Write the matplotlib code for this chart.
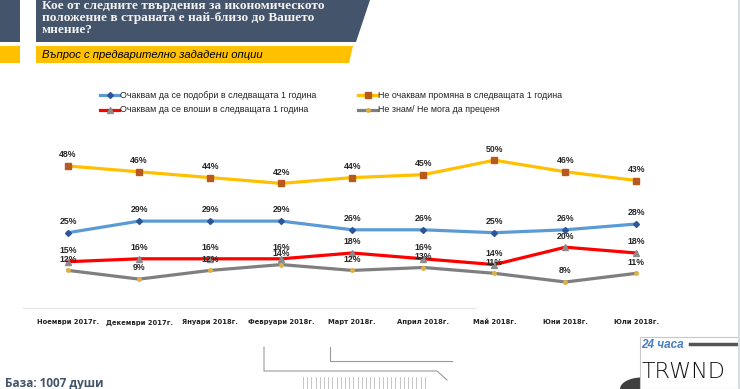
import matplotlib.pyplot as plt
from matplotlib.lines import Line2D
from matplotlib.patches import Polygon, Rectangle, Wedge
import numpy as np

# survey data (% of respondents)
months = ['Ноември 2017г.', 'Декември 2017г.', 'Януари 2018г.', 'Февруари 2018г.',
          'Март 2018г.', 'Април 2018г.', 'Май 2018г.', 'Юни 2018г.', 'Юли 2018г.']
better = [25, 29, 29, 29, 26, 26, 25, 26, 28]
same = [48, 46, 44, 42, 44, 45, 50, 46, 43]
worse = [15, 16, 16, 16, 18, 16, 14, 20, 18]
dunno = [12, 9, 12, 14, 12, 13, 11, 8, 11]

names = ['Очаквам да се подобри в следващата 1 година',
         'Не очаквам промяна в следващата 1 година',
         'Очаквам да се влоши в следващата 1 година',
         'Не знам/ Не мога да преценя']

W, H = 740, 389
fig = plt.figure(figsize=(W / 100, H / 100), dpi=100)
fig.patch.set_facecolor('white')

def fx(x):
    return x / W

def fy(y):
    return 1 - y / H

SLATE = '#44546A'
YEL = '#FFC000'

# header blocks
fig.add_artist(Rectangle((0, fy(42)), fx(20), 42 / H, transform=fig.transFigure,
                         color=SLATE, lw=0))
fig.add_artist(Polygon([(fx(36), fy(0)), (fx(370), fy(0)), (fx(356), fy(42)), (fx(36), fy(42))],
                       closed=True, transform=fig.transFigure, color=SLATE, lw=0))
fig.add_artist(Rectangle((0, fy(63)), fx(20), 17 / H, transform=fig.transFigure,
                         color=YEL, lw=0))
fig.add_artist(Polygon([(fx(36), fy(46)), (fx(353), fy(46)), (fx(349), fy(63)), (fx(36), fy(63))],
                       closed=True, transform=fig.transFigure, color=YEL, lw=0))
fig.text(fx(42), fy(0.5), 'Кое от следните твърдения за икономическото\nположение в страната е най-близо до Вашето\nмнение?',
         color='#F2F2F2', fontsize=9.6, fontweight='bold', family='Liberation Serif',
         va='top', ha='left', linespacing=0.98)
fig.text(fx(42), fy(55), 'Въпрос с предварително зададени опции', color='black',
         fontsize=8.1, style='italic', family='Liberation Sans', va='center', ha='left')

# chart axes: x index -0.5..8.5 spans px 32.5..672
ax = fig.add_axes([fx(32.5), fy(300), fx(672 - 32.5), 170 / H])
x = np.arange(len(months))
series = [
    (better, '#5B9BD5', 'D', '#2F5597', 3),
    (same, YEL, 's', '#B85A1E', 4.5),
    (worse, '#FF0000', '^', '#8C8C8C', 5),
    (dunno, '#7F7F7F', 'o', '#E0B040', 2.5),
]
for vals, c, m, mc, ms in series:
    ax.plot(x, vals, color=c, lw=2.3, marker=m, ms=ms, mfc=mc, mec=mc, zorder=3)
    for xi, v in zip(x, vals):
        ax.annotate(f'{v}%', (xi, v), xytext=(0, 8), textcoords='offset points',
                    ha='center', va='center', fontsize=6.3, fontweight='bold',
                    color='#262626', family='Liberation Sans', zorder=4)

ax.set_xlim(-0.5, 8.5)
ax.set_ylim(48 - 134 / 2.9, 48 + 36 / 2.9)
ax.set_xticks(x)
ax.set_xticklabels(months, fontsize=4.9, fontweight='bold', color='#222222')
ax.tick_params(axis='x', length=0, pad=14)
ax.set_yticks([])
for s in ax.spines.values():
    s.set_visible(False)

# separator line under the plot
fig.add_artist(Line2D([fx(23), fx(475)], [fy(308), fy(308)], transform=fig.transFigure,
                      color='#E3E6EA', lw=1))

# legend (manual, two columns)
legend_pos = [(100, 95), (358, 95), (100, 110), (358, 110)]
for (vals, c, m, mc, ms), name, (lx, ly) in zip(series, names, legend_pos):
    fig.add_artist(Line2D([fx(lx), fx(lx + 19)], [fy(ly), fy(ly)], transform=fig.transFigure,
                          color=c, lw=2.3))
    fig.add_artist(Line2D([fx(lx + 10)], [fy(ly)], transform=fig.transFigure, marker=m,
                          ms=ms, mfc=mc, mec=mc, lw=0))
    fig.text(fx(lx + 20), fy(ly), name, fontsize=6.4, family='Liberation Sans', color='#222222',
             va='center', ha='left')

# bottom decoration
fig.add_artist(Line2D([fx(264), fx(264), fx(437), fx(447)], [fy(347), fy(371), fy(371), fy(380)],
                      transform=fig.transFigure, color='#9A9A9A', lw=0.8))
fig.add_artist(Line2D([fx(330), fx(330), fx(452)], [fy(347), fy(361), fy(361)],
                      transform=fig.transFigure, color='#9A9A9A', lw=0.8))
for sx in np.arange(303, 425, 4.2):
    fig.add_artist(Line2D([fx(sx), fx(sx)], [fy(377), fy(389)], transform=fig.transFigure,
                          color='#BBBBBB', lw=0.6))
fig.add_artist(Wedge((fx(642), fy(389)), fx(22), 0, 180, transform=fig.transFigure,
                     color='#3F3F3F', lw=0))
fig.add_artist(Rectangle((fx(640), 0), fx(100), 52 / H, transform=fig.transFigure,
                         facecolor='white', edgecolor='#C8C8C8', lw=0.8))
fig.add_artist(Line2D([fx(690), fx(738)], [fy(344), fy(344)], transform=fig.transFigure,
                      color='#555555', lw=2.5))
fig.text(fx(641), fy(345), '24 часа', color='#4A7FC1', fontsize=8.5, fontweight='bold',
         style='italic', va='center', ha='left', family='Liberation Sans')
fig.text(fx(642), fy(372), 'TRWND', color='#111111', fontsize=16, fontweight='light',
         va='center', ha='left', family='DejaVu Sans')
fig.add_artist(Line2D([fx(739), fx(739)], [0, 1], transform=fig.transFigure,
                      color='#D8DCE2', lw=1.5))

fig.text(fx(5), fy(383), 'База: 1007 души', color=SLATE, fontsize=8.5, fontweight='bold',
         family='Open Sans', va='center', ha='left')

fig.savefig('out.png', dpi=100)
